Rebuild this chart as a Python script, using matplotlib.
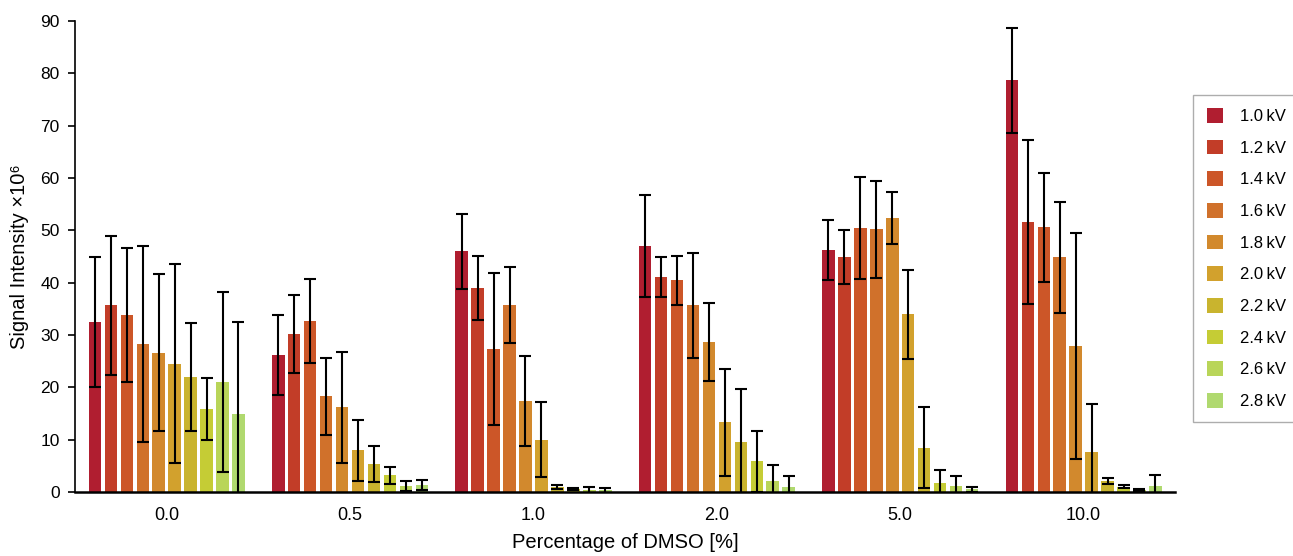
import numpy as np
import matplotlib
matplotlib.use("Agg")
import matplotlib.pyplot as plt

plt.rcParams['font.family'] = ['Liberation Sans', 'DejaVu Sans']

# DMSO concentration groups (x categories)
dmso_labels = ['0.0', '0.5', '1.0', '2.0', '5.0', '10.0']
voltages = ['1.0', '1.2', '1.4', '1.6', '1.8', '2.0', '2.2', '2.4', '2.6', '2.8']

# mean signal intensity (x10^6), one list per voltage, across the DMSO groups
means = {
    '1.0': [32.5, 26.2, 46.0, 47.0, 46.2, 78.7],
    '1.2': [35.7, 30.2, 39.0, 41.1, 44.9, 51.6],
    '1.4': [33.8, 32.7, 27.3, 40.5, 50.5, 50.6],
    '1.6': [28.3, 18.3, 35.7, 35.7, 50.2, 44.9],
    '1.8': [26.6, 16.2, 17.4, 28.7, 52.4, 27.9],
    '2.0': [24.5, 8.0, 10.0, 13.3, 34.0, 7.6],
    '2.2': [22.0, 5.4, 1.0, 9.6, 8.5, 2.1],
    '2.4': [15.9, 3.2, 0.5, 5.9, 1.7, 1.0],
    '2.6': [21.0, 1.2, 0.3, 2.1, 1.2, 0.4],
    '2.8': [14.9, 1.3, 0.3, 1.0, 0.5, 1.2],
}
# standard deviations (symmetric error bars)
errors = {
    '1.0': [12.4, 7.6, 7.2, 9.8, 5.7, 10.0],
    '1.2': [13.3, 7.4, 6.2, 3.9, 5.2, 15.7],
    '1.4': [12.8, 8.1, 14.5, 4.7, 9.7, 10.4],
    '1.6': [18.7, 7.3, 7.3, 10.0, 9.2, 10.6],
    '1.8': [15.0, 10.6, 8.6, 7.5, 5.0, 21.6],
    '2.0': [19.0, 5.8, 7.2, 10.2, 8.5, 9.2],
    '2.2': [10.3, 3.4, 0.4, 10.1, 7.8, 0.5],
    '2.4': [5.9, 1.6, 0.2, 5.8, 2.5, 0.3],
    '2.6': [17.2, 1.0, 0.6, 3.1, 1.9, 0.2],
    '2.8': [17.6, 1.0, 0.5, 2.1, 0.5, 2.0],
}
colors = ['#B01E30', '#C23D28', '#CC5628', '#D0712B', '#D2892D',
          '#D2A12D', '#C9B42E', '#C5CC35', '#B9D559', '#B0D96F']

fig = plt.figure(figsize=(12.93, 5.56), dpi=100)
ax = fig.add_axes([0.058, 0.115, 0.851, 0.847])

x = np.arange(len(dmso_labels))
pitch = 0.087
width = 0.068
n = len(voltages)
for i, v in enumerate(voltages):
    pos = x + (i - (n - 1) / 2) * pitch
    ax.bar(pos, means[v], width=width, color=colors[i], label=f'{v}\u2009kV', zorder=2)
    ax.errorbar(pos, means[v], yerr=errors[v], fmt='none', ecolor='black',
                elinewidth=1.5, capsize=4, capthick=1.5, zorder=3)

ax.set_xlim(-0.5, len(dmso_labels) - 0.5)
ax.set_ylim(0, 90)
ax.set_yticks(range(0, 91, 10))
ax.set_xticks(x)
ax.set_xticklabels(dmso_labels)
ax.tick_params(axis='x', length=0, pad=11, labelsize=13)
ax.tick_params(axis='y', length=5, width=1.2, labelsize=12.5, pad=6)
ax.spines['top'].set_visible(False)
ax.spines['right'].set_visible(False)
ax.spines['left'].set_linewidth(1.2)
ax.spines['bottom'].set_linewidth(1.8)

ax.set_xlabel('Percentage of DMSO [%]', fontsize=14.5, labelpad=6)
ax.set_ylabel('Signal Intensity \u00d710\u2076', fontsize=14.5, labelpad=8)

leg = ax.legend(loc='upper left', bbox_to_anchor=(0.923, 0.83),
                bbox_transform=fig.transFigure, fontsize=12, frameon=True,
                fancybox=False, edgecolor='#999999', handlelength=1.0,
                handleheight=1.0, labelspacing=0.93, borderpad=0.8,
                handletextpad=1.0, borderaxespad=0)
leg.get_frame().set_linewidth(1.0)

fig.savefig('out.png', dpi=100)
